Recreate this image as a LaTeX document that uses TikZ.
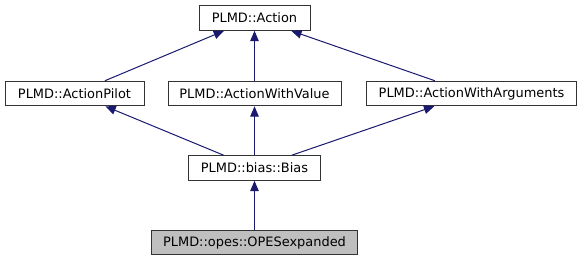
\documentclass[tikz,border=0pt]{standalone}
\usepackage{fontspec}
\setmainfont{DejaVu Sans}
\usetikzlibrary{arrows.meta}
\definecolor{edgeblue}{HTML}{191970}
\definecolor{boxline}{HTML}{333333}
\definecolor{selfill}{HTML}{BFBFBF}
\begin{document}
\begin{tikzpicture}[x=0.75pt,y=-0.75pt,
  cls/.style={draw=boxline, line width=0.75pt, fill=white, minimum height=18.4pt,
    inner sep=0pt, font=\fontsize{9.7}{11}\selectfont},
  sel/.style={cls, fill=selfill},
  edge/.style={draw=edgeblue, line width=0.75pt,
    -{Triangle[length=7.8pt,width=6.4pt]}}]
\useasboundingbox (0,0) rectangle (580,261);
\node[cls, minimum width=83.25pt]  (act)   at (254.5,18)   {PLMD::Action};
\node[cls, minimum width=104.25pt] (pilot) at (74.5,93.5)  {PLMD::ActionPilot};
\node[cls, minimum width=129.75pt] (value) at (254.5,93.5) {PLMD::ActionWithValue};
\node[cls, minimum width=157.5pt]  (args)  at (471.5,93.5) {PLMD::ActionWithArguments};
\node[cls, minimum width=99pt]     (bias)  at (254.5,168)  {PLMD::bias::Bias};
\node[sel, minimum width=154.5pt]  (opes)  at (254.5,242.5) {PLMD::opes::OPESexpanded};
\draw[edge] (pilot) -- (act);
\draw[edge] (value) -- (act);
\draw[edge] (args) -- (act);
\draw[edge] (bias) -- (pilot);
\draw[edge] (bias) -- (value);
\draw[edge] (bias) -- (args);
\draw[edge] (opes) -- (bias);
\end{tikzpicture}
\end{document}
